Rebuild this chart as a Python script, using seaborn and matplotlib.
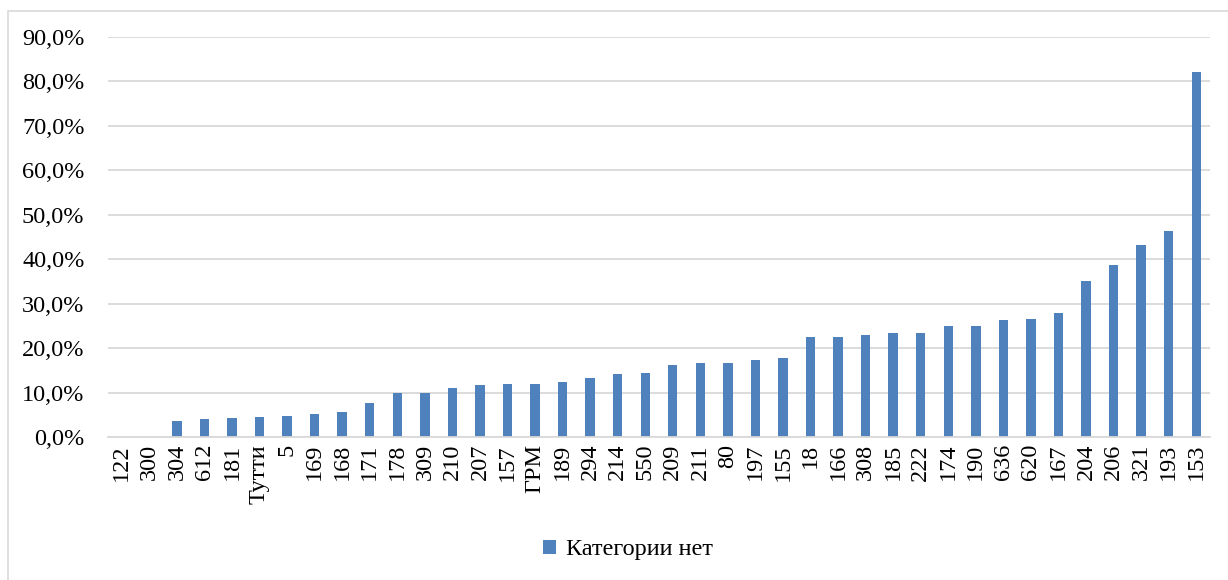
import matplotlib
matplotlib.use("Agg")
import matplotlib.pyplot as plt
import matplotlib.ticker as mticker
from matplotlib.patches import Rectangle
import seaborn as sns
import pandas as pd

categories = ["122", "300", "304", "612", "181", "Тутти", "5", "169", "168", "171",
              "178", "309", "210", "207", "157", "ГРМ", "189", "294", "214", "550",
              "209", "211", "80", "197", "155", "18", "166", "308", "185", "222",
              "174", "190", "636", "620", "167", "204", "206", "321", "193", "153"]
values = [0.0, 0.0, 3.6, 4.1, 4.3, 4.5, 4.7, 5.2, 5.6, 7.7,
          9.9, 9.9, 11.0, 11.7, 11.9, 12.0, 12.4, 13.3, 14.2, 14.5,
          16.3, 16.7, 16.7, 17.3, 17.8, 22.5, 22.6, 23.0, 23.3, 23.5,
          24.9, 24.9, 26.4, 26.6, 28.0, 35.2, 38.8, 43.3, 46.4, 82.1]
series_name = "Категории нет"
yticks = [0, 10, 20, 30, 40, 50, 60, 70, 80, 90]

df = pd.DataFrame({"cat": categories, "val": [v / 100 for v in values],
                   "series": series_name})

sns.set_theme(style="white")
plt.rcParams["font.family"] = ["Liberation Serif", "DejaVu Serif"]

fig = plt.figure(figsize=(12.28, 5.8), dpi=100)
ax = fig.add_axes([108 / 1228, 1 - 437 / 580, (1210 - 108) / 1228, (437 - 37) / 580])

sns.barplot(data=df, x="cat", y="val", hue="series", order=categories,
            palette=["#4F81BD"], width=0.34, dodge=False, ax=ax, saturation=1,
            linewidth=0, edgecolor="none")

ax.set_xlim(-0.5, len(categories) - 0.5)
ax.set_ylim(0, 0.9)
ax.set_yticks([t / 100 for t in yticks])
ax.yaxis.set_major_formatter(mticker.FuncFormatter(lambda v, p: f"{v*100:.1f}%".replace(".", ",")))
ax.grid(axis="y", color="#d9d9d9", linewidth=1.3)
ax.set_axisbelow(True)
for s in ["top", "right", "left"]:
    ax.spines[s].set_visible(False)
ax.spines["bottom"].set_color("#d9d9d9")
ax.spines["bottom"].set_linewidth(1.3)
ax.tick_params(axis="x", labelsize=17.5, rotation=90, length=0, pad=5, colors="black")
ax.tick_params(axis="y", labelsize=17.5, length=0, pad=17, colors="black")
for lbl in ax.get_xticklabels():
    lbl.set_va("top")
ax.set_xlabel("")
ax.set_ylabel("")

leg = ax.legend(loc="center", bbox_to_anchor=(628 / 1228, 1 - 550 / 580), bbox_transform=fig.transFigure,
                frameon=False, fontsize=17.5, handlelength=0.55, handleheight=0.55, handletextpad=0.4)
for t in leg.get_texts():
    t.set_color("black")

fig.patches.append(Rectangle((8 / 1228, -0.1), 1.1, (1 - 11 / 580) + 0.1, transform=fig.transFigure,
                             fill=False, edgecolor="#d9d9d9", linewidth=1.2))

fig.savefig("out.png", dpi=100)
